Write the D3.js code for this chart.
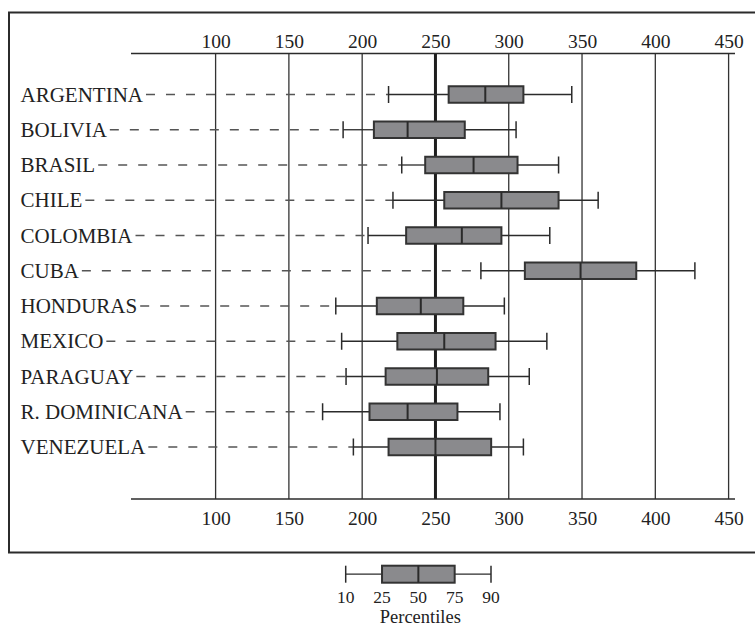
<!DOCTYPE html>
<html>
<head>
<meta charset="utf-8">
<script src="https://cdn.jsdelivr.net/npm/d3@7"></script>
<style>
  html, body { margin: 0; padding: 0; background: #fff; }
  svg { display: block; }
  text { font-family: "Liberation Serif", "DejaVu Serif", serif; fill: #222; }
</style>
</head>
<body>
<svg id="chart" width="755" height="627"></svg>
<script>
const categories = ["ARGENTINA", "BOLIVIA", "BRASIL", "CHILE", "COLOMBIA", "CUBA",
  "HONDURAS", "MEXICO", "PARAGUAY", "R. DOMINICANA", "VENEZUELA"];
const p10 = [218, 187, 227, 221, 204, 281, 182, 186, 189, 173, 194];
const p25 = [259, 208, 243, 256, 230, 311, 210, 224, 216, 205, 218];
const p50 = [284, 231, 276, 295, 268, 349, 240, 256, 251, 231, 250];
const p75 = [310, 270, 306, 334, 295, 387, 269, 291, 286, 265, 288];
const p90 = [343, 305, 334, 361, 328, 427, 297, 326, 314, 294, 310];
const xTicks = [100, 150, 200, 250, 300, 350, 400, 450];
const referenceValue = 250;
const legendLabels = ["10", "25", "50", "75", "90"];
const legendTitle = "Percentiles";

const rows = categories.map((c, i) => ({
  name: c, p10: p10[i], p25: p25[i], p50: p50[i], p75: p75[i], p90: p90[i]
}));

const svg = d3.select("#chart");
const dark = "#2b2b2b";
const boxFill = "#8a8a8d";

// frame
svg.append("rect")
  .attr("x", 9).attr("y", 12.5).attr("width", 770).attr("height", 540)
  .attr("fill", "none").attr("stroke", dark).attr("stroke-width", 2);

const x = d3.scaleLinear().domain([100, 450]).range([215.6, 728.6]);
const y = d3.scalePoint().domain(categories).range([94.5, 447]);

const axisLeft = 131, axisRight = 735, axisTop = 53.5, axisBottom = 499;

// gridlines
svg.append("g").selectAll("line").data(xTicks).join("line")
  .attr("x1", d => x(d)).attr("x2", d => x(d))
  .attr("y1", axisTop).attr("y2", axisBottom)
  .attr("stroke", d => d === referenceValue ? "#1e1e1e" : "#333")
  .attr("stroke-width", d => d === referenceValue ? 3 : 1.3);

// top and bottom axes
const topAxis = d3.axisTop(x).tickValues(xTicks).tickSize(0).tickPadding(6);
const bottomAxis = d3.axisBottom(x).tickValues(xTicks).tickSize(0).tickPadding(12);

function styleAxis(g) {
  g.select(".domain").remove();
  g.selectAll("text").attr("font-size", 19.5)
    .attr("font-family", "'Liberation Serif', serif").attr("fill", "#222");
}
svg.append("g").attr("transform", `translate(0,${axisTop})`).call(topAxis).call(styleAxis);
svg.append("g").attr("transform", `translate(0,${axisBottom})`).call(bottomAxis).call(styleAxis);

[axisTop, axisBottom].forEach(yy => {
  svg.append("line").attr("x1", axisLeft).attr("x2", axisRight)
    .attr("y1", yy).attr("y2", yy).attr("stroke", dark).attr("stroke-width", 1.5);
});

// rows
const rowG = svg.append("g").selectAll("g").data(rows).join("g")
  .attr("transform", d => `translate(0,${y(d.name)})`);

const labels = rowG.append("text")
  .attr("x", 20.5).attr("y", 7)
  .attr("font-size", 21)
  .text(d => d.name);

labels.each(function(d) { d.labelEnd = 20.5 + this.getComputedTextLength(); });

// dashed leaders
rowG.append("line")
  .attr("x1", d => d.labelEnd + 3).attr("x2", d => x(d.p10))
  .attr("y1", 0).attr("y2", 0)
  .attr("stroke", "#555").attr("stroke-width", 1.4)
  .attr("stroke-dasharray", "9,11");

const boxH = 16.5, capH = 17;

// whiskers
rowG.append("line")
  .attr("x1", d => x(d.p10)).attr("x2", d => x(d.p25))
  .attr("y1", 0).attr("y2", 0).attr("stroke", dark).attr("stroke-width", 1.3);
rowG.append("line")
  .attr("x1", d => x(d.p75)).attr("x2", d => x(d.p90))
  .attr("y1", 0).attr("y2", 0).attr("stroke", dark).attr("stroke-width", 1.3);
["p10", "p90"].forEach(k => {
  rowG.append("line")
    .attr("x1", d => x(d[k])).attr("x2", d => x(d[k]))
    .attr("y1", -capH / 2).attr("y2", capH / 2)
    .attr("stroke", dark).attr("stroke-width", 1.5);
});

// boxes
rowG.append("rect")
  .attr("x", d => x(d.p25)).attr("width", d => x(d.p75) - x(d.p25))
  .attr("y", -boxH / 2).attr("height", boxH)
  .attr("fill", boxFill).attr("stroke", "#333").attr("stroke-width", 2);
rowG.append("line")
  .attr("x1", d => x(d.p50)).attr("x2", d => x(d.p50))
  .attr("y1", -boxH / 2).attr("y2", boxH / 2)
  .attr("stroke", "#2a2a2a").attr("stroke-width", 2);

// legend
const lx = d3.scalePoint().domain(legendLabels).range([345.7, 491]);
const ly = 574.2, lh = 17;
const leg = svg.append("g");
leg.append("line").attr("x1", lx("10")).attr("x2", lx("25")).attr("y1", ly).attr("y2", ly)
  .attr("stroke", dark).attr("stroke-width", 1.3);
leg.append("line").attr("x1", lx("75")).attr("x2", lx("90")).attr("y1", ly).attr("y2", ly)
  .attr("stroke", dark).attr("stroke-width", 1.3);
["10", "90"].forEach(k => {
  leg.append("line").attr("x1", lx(k)).attr("x2", lx(k))
    .attr("y1", ly - lh / 2).attr("y2", ly + lh / 2)
    .attr("stroke", dark).attr("stroke-width", 1.5);
});
leg.append("rect").attr("x", lx("25")).attr("width", lx("75") - lx("25"))
  .attr("y", ly - lh / 2).attr("height", lh)
  .attr("fill", boxFill).attr("stroke", "#333").attr("stroke-width", 2);
leg.append("line").attr("x1", lx("50")).attr("x2", lx("50"))
  .attr("y1", ly - lh / 2).attr("y2", ly + lh / 2)
  .attr("stroke", "#2a2a2a").attr("stroke-width", 2);
leg.selectAll("text.pl").data(legendLabels).join("text")
  .attr("class", "pl")
  .attr("x", d => lx(d)).attr("y", 602.5)
  .attr("text-anchor", "middle").attr("font-size", 17.5)
  .text(d => d);
leg.append("text").attr("x", (lx("10") + lx("90")) / 2 + 2).attr("y", 623)
  .attr("text-anchor", "middle").attr("font-size", 18.5)
  .text(legendTitle);
</script>
</body>
</html>
